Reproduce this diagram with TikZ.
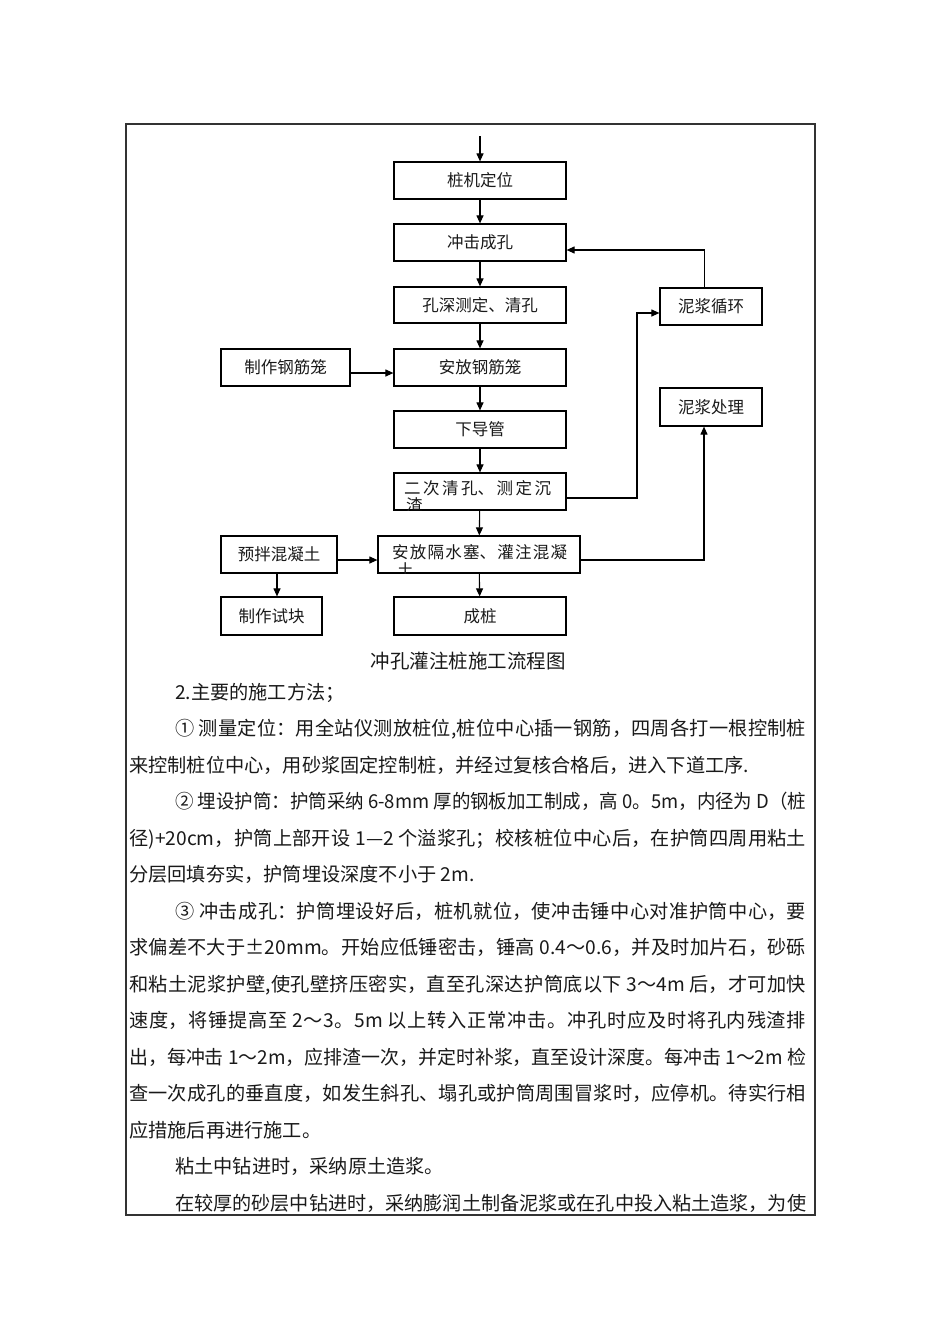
\documentclass[tikz,border=0pt]{standalone}
\usepackage{fontspec}
\usepackage{graphicx}
\setmainfont{Noto Sans CJK SC}
\usetikzlibrary{arrows.meta}
\XeTeXlinebreaklocale "zh"
\XeTeXlinebreakskip=0pt plus 3pt minus 0.2pt
\newsavebox\jlbox
\newcommand\jl[2]{\sbox\jlbox{#2}\ifdim\wd\jlbox>#1pt\relax\resizebox{#1pt}{\height}{\usebox\jlbox}\else\parbox[b]{#1pt}{\parfillskip=0pt\parindent=0pt\hbadness=10000\relax #2}\fi}
\newcommand\bfnt{\fontsize{16.5pt}{17pt}\selectfont}
\newcommand\tfnt{\fontsize{19.2pt}{23pt}\selectfont}
\newcommand\cfnt{\fontsize{19.5pt}{23pt}\selectfont}
\begin{document}
\begin{tikzpicture}[x=1pt,y=-1pt,
  box/.style={draw, line width=1.2pt, inner sep=0pt, font=\bfnt, text=black!90},
  arr/.style={line width=1.1pt, -{Triangle[length=8pt,width=7pt]}},
  ln/.style={line width=1.1pt},
  body/.style={anchor=base west, inner sep=0pt, font=\tfnt, text=black!90},
  inbox/.style={anchor=base west, inner sep=0pt, font=\bfnt, text=black!90}]
\useasboundingbox (0,0) rectangle (950,1344);
% frame
\draw[line width=1.2pt, black!80] (126,124) rectangle (815,1215);
% main column
\coordinate (top) at (480,136);
\node[box, minimum width=172pt, minimum height=37pt] (b1) at (480,180.5) {桩机定位};
\node[box, minimum width=172pt, minimum height=37pt] (b2) at (480,242.5) {冲击成孔};
\node[box, minimum width=172pt, minimum height=36pt] (b3) at (480,305) {孔深测定、清孔};
\node[box, minimum width=172pt, minimum height=37pt] (b4) at (480,367.5) {安放钢筋笼};
\node[box, minimum width=172pt, minimum height=37pt] (b5) at (480,429.5) {下导管};
\node[box, minimum width=172pt, minimum height=37pt] (b6) at (480,491.5) {};
\node[box, minimum width=202pt, minimum height=37pt] (b7) at (479,554.5) {};
\node[box, minimum width=172pt, minimum height=38pt] (b8) at (480,616) {成桩};
% side boxes
\node[box, minimum width=129pt, minimum height=37pt] (L1) at (285.5,367.5) {制作钢筋笼};
\node[box, minimum width=116pt, minimum height=37pt] (L2) at (279,554.5) {预拌混凝土};
\node[box, minimum width=101pt, minimum height=38pt] (L3) at (271.5,616) {制作试块};
\node[box, minimum width=102pt, minimum height=37pt] (R1) at (711,306.5) {泥浆循环};
\node[box, minimum width=102pt, minimum height=38pt] (R2) at (711,407) {泥浆处理};
% clipped two-line texts
\begin{scope}
\clip (b6.north west) rectangle (b6.south east);
\node[inbox] (t6a) at (404,494) {\jl{147}{二次清孔、测定沉}};
\node[inbox] (t6b) at (406,511) {渣};
\end{scope}
\begin{scope}
\clip (b7.north west) rectangle (b7.south east);
\node[inbox] (t7a) at (392,558) {\jl{175}{安放隔水塞、灌注混凝}};
\node[inbox] (t7b) at (397,576) {土};
\end{scope}
% arrows
\draw[arr] (top) -- (b1.north);
\draw[arr] (b1) -- (b2);
\draw[arr] (b2) -- (b3);
\draw[arr] (b3) -- (b4);
\draw[arr] (b4) -- (b5);
\draw[arr] (b5) -- (b6);
\draw[arr] (b6) -- (b7);
\draw[arr] (b7) -- (b8);
\draw[arr] ([yshift=-5.5pt]L1.east) -- ([yshift=-5.5pt]b4.west);
\draw[arr] ([yshift=-5.5pt]L2.east) -- ([yshift=-5.5pt]b7.west);
\draw[arr] ([xshift=-2pt]L2.south) -- ([xshift=-2pt]L2.south |- L3.north);
\coordinate (c1) at (637,313);
\draw[arr] ([yshift=-6.5pt]b6.east) -| (c1) -- ([yshift=-6.5pt]R1.west);
\draw[arr] ([xshift=-6.5pt]R1.north) |- ([yshift=-7.5pt]b2.east);
\draw[arr] ([yshift=-5.5pt]b7.east) -| ([xshift=-7pt]R2.south);
% caption
\node[font=\cfnt, inner sep=0pt, text=black!90] (cap) at (468,661) {冲孔灌注桩施工流程图};
% body text
\node[body] (l0) at (175,699) {2.主要的施工方法；};
\node[body] (l1) at (175,735.5) {\jl{631}{① 测量定位：用全站仪测放桩位,桩位中心插一钢筋，四周各打一根控制桩}};
\node[body] (l2) at (129,772) {来控制桩位中心，用砂浆固定控制桩，并经过复核合格后，进入下道工序.};
\node[body] (l3) at (175,808.5) {\jl{631}{② 埋设护筒：护筒采纳 6-8mm 厚的钢板加工制成，高 0。5m，内径为 D（桩}};
\node[body] (l4) at (129,845) {\jl{677}{径)+20cm，护筒上部开设 1—2 个溢浆孔；校核桩位中心后，在护筒四周用粘土}};
\node[body] (l5) at (129,881.5) {分层回填夯实，护筒埋设深度不小于 2m.};
\node[body] (l6) at (175,918) {\jl{631}{③ 冲击成孔：护筒埋设好后，桩机就位，使冲击锤中心对准护筒中心，要}};
\node[body] (l7) at (129,954.5) {\jl{677}{求偏差不大于±20mm。开始应低锤密击，锤高 0.4～0.6，并及时加片石，砂砾}};
\node[body] (l8) at (129,991) {\jl{677}{和粘土泥浆护壁,使孔壁挤压密实，直至孔深达护筒底以下 3～4m 后，才可加快}};
\node[body] (l9) at (129,1027.5) {\jl{677}{速度，将锤提高至 2～3。5m 以上转入正常冲击。冲孔时应及时将孔内残渣排}};
\node[body] (l10) at (129,1064) {\jl{677}{出，每冲击 1～2m，应排渣一次，并定时补浆，直至设计深度。每冲击 1～2m 检}};
\node[body] (l11) at (129,1100.5) {\jl{677}{查一次成孔的垂直度，如发生斜孔、塌孔或护筒周围冒浆时，应停机。待实行相}};
\node[body] (l12) at (129,1137) {应措施后再进行施工。};
\node[body] (l13) at (175,1173.5) {粘土中钻进时，采纳原土造浆。};
\node[body] (l14) at (175,1210) {\jl{631}{在较厚的砂层中钻进时，采纳膨润土制备泥浆或在孔中投入粘土造浆，为使}};
\end{tikzpicture}
\end{document}
